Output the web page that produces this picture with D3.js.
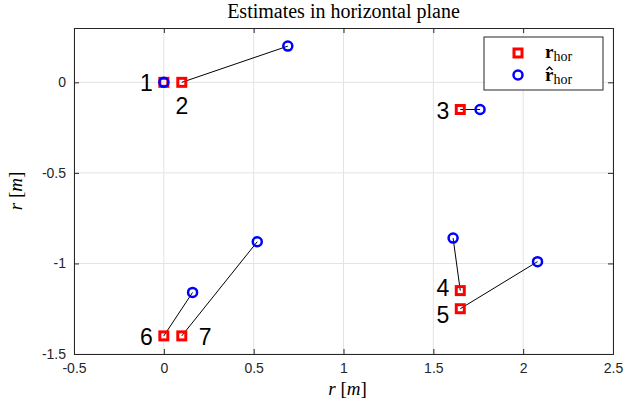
<!DOCTYPE html>
<html lang="en">
  <head>
    <meta charset="UTF-8" />
    <title>Estimates in horizontal plane</title>
    <style>
      body { margin: 0; background: #fff; }
      .tick text { font-family: "Liberation Sans", Arial, sans-serif; font-size: 14px; fill: #262626; }
    </style>
  </head>
  <body>
    <div id="chart"></div>
    <script src="https://cdn.jsdelivr.net/npm/d3@7"></script>
    <script>

      // data
      var ids   = ["1", "2", "3", "4", "5", "6", "7"];
      var trueX = [0.00, 0.10, 1.65, 1.65, 1.65, 0.00, 0.10];
      var trueY = [0.00, 0.00, -0.15, -1.15, -1.25, -1.40, -1.40];
      var estX  = [0.00, 0.69, 1.76, 1.61, 2.08, 0.16, 0.52];
      var estY  = [0.00, 0.20, -0.15, -0.86, -0.99, -1.16, -0.88];
      var xTicks = [-0.5, 0, 0.5, 1, 1.5, 2, 2.5];
      var yTicks = [0, -0.5, -1, -1.5];

      // label placement (layout only): side and extra vertical nudge in px
      var labelSide = ["left", "below", "left", "left", "left", "left", "right"];
      var labelNudge = [0, 0, 0, -4, 5, 0, 0];

      var W = 624, H = 409;
      var margin = { top: 28, right: 11, bottom: 55, left: 74 };
      var w = W - margin.left - margin.right,
          h = H - margin.top - margin.bottom;

      var svg = d3.select("#chart").append("svg")
                  .attr("width", W)
                  .attr("height", H);

      var xScale = d3.scaleLinear().domain([-0.5, 2.5]).range([0, w]);
      var yScale = d3.scaleLinear().domain([-1.5, 0.3]).range([h, 0]);

      var g = svg.append("g")
                 .attr("transform", "translate(" + margin.left + "," + margin.top + ")");

      // grid
      g.append("g")
       .selectAll("line")
       .data(xTicks)
       .enter()
       .append("line")
       .attr("x1", function(d) { return xScale(d); })
       .attr("x2", function(d) { return xScale(d); })
       .attr("y1", 0).attr("y2", h)
       .attr("stroke", "#e3e3e3").attr("stroke-width", 1);
      g.append("g")
       .selectAll("line")
       .data(yTicks)
       .enter()
       .append("line")
       .attr("y1", function(d) { return yScale(d); })
       .attr("y2", function(d) { return yScale(d); })
       .attr("x1", 0).attr("x2", w)
       .attr("stroke", "#e3e3e3").attr("stroke-width", 1);

      // axes, ticks pointing inward
      var fmt = function(d) { return String(d); };
      var xAxis = d3.axisBottom(xScale).tickValues(xTicks).tickFormat(fmt).tickSize(-5).tickPadding(9);
      var yAxis = d3.axisLeft(yScale).tickValues(yTicks).tickFormat(fmt).tickSize(-5).tickPadding(8);
      var xTop = d3.axisTop(xScale).tickValues(xTicks).tickFormat("").tickSize(-5);
      var yRight = d3.axisRight(yScale).tickValues(yTicks).tickFormat("").tickSize(-5);

      [
        [xAxis, "translate(0," + h + ")"],
        [yAxis, "translate(0,0)"],
        [xTop, "translate(0,0)"],
        [yRight, "translate(" + w + ",0)"]
      ].forEach(function(a) {
        var ax = g.append("g").attr("transform", a[1]).call(a[0]);
        ax.select(".domain").attr("stroke", "#262626").attr("stroke-width", 1);
        ax.selectAll(".tick line").attr("stroke", "#262626");
      });
      g.selectAll(".tick text").attr("fill", "#262626");

      // connection lines
      g.selectAll("line.link")
       .data(ids)
       .enter()
       .append("line")
       .attr("class", "link")
       .attr("x1", function(d, i) { return xScale(trueX[i]); })
       .attr("y1", function(d, i) { return yScale(trueY[i]); })
       .attr("x2", function(d, i) { return xScale(estX[i]); })
       .attr("y2", function(d, i) { return yScale(estY[i]); })
       .attr("stroke", "#000")
       .attr("stroke-width", 1);

      // true positions: red squares
      g.selectAll("rect.truth")
       .data(ids)
       .enter()
       .append("rect")
       .attr("class", "truth")
       .attr("x", function(d, i) { return xScale(trueX[i]) - 4; })
       .attr("y", function(d, i) { return yScale(trueY[i]) - 4; })
       .attr("width", 8).attr("height", 8)
       .attr("fill", "none")
       .attr("stroke", "#ff0000")
       .attr("stroke-width", 3);

      // estimates: blue circles
      g.selectAll("circle.est")
       .data(ids)
       .enter()
       .append("circle")
       .attr("class", "est")
       .attr("cx", function(d, i) { return xScale(estX[i]); })
       .attr("cy", function(d, i) { return yScale(estY[i]); })
       .attr("r", 4.5)
       .attr("fill", "none")
       .attr("stroke", "#0000ff")
       .attr("stroke-width", 2.5);

      // number labels
      g.selectAll("text.id")
       .data(ids)
       .enter()
       .append("text")
       .attr("class", "id")
       .attr("x", function(d, i) {
         var x = xScale(trueX[i]);
         if (labelSide[i] == "left") return x - 11;
         if (labelSide[i] == "right") return x + 17;
         return x;
       })
       .attr("y", function(d, i) {
         var y = yScale(trueY[i]) + labelNudge[i];
         if (labelSide[i] == "below") return y + 32;
         return y + 9;
       })
       .attr("text-anchor", function(d, i) {
         if (labelSide[i] == "left") return "end";
         if (labelSide[i] == "right") return "start";
         return "middle";
       })
       .style("font-family", "Liberation Sans, Arial, sans-serif")
       .style("font-size", "23px")
       .attr("fill", "#000")
       .text(function(d) { return d; });

      var serif = "Liberation Serif, Times New Roman, serif";

      // title
      svg.append("text")
         .attr("x", margin.left + w / 2)
         .attr("y", 18)
         .attr("text-anchor", "middle")
         .style("font-family", serif)
         .style("font-size", "20px")
         .text("Estimates in horizontal plane");

      // axis labels
      function axisLabel(sel) {
        sel.append("tspan").style("font-style", "italic").text("r");
        sel.append("tspan").text(" [");
        sel.append("tspan").style("font-style", "italic").text("m");
        sel.append("tspan").text("]");
      }
      svg.append("text")
         .attr("x", margin.left + w / 2 + 4)
         .attr("y", 395)
         .attr("text-anchor", "middle")
         .style("font-family", serif)
         .style("font-size", "19px")
         .call(axisLabel);

      svg.append("text")
         .attr("transform", "translate(22," + (margin.top + h / 2) + ")rotate(-90)")
         .attr("text-anchor", "middle")
         .style("font-family", serif)
         .style("font-size", "19px")
         .call(axisLabel);

      // legend
      var lg = svg.append("g").attr("transform", "translate(484,37)");
      lg.append("rect")
        .attr("width", 119).attr("height", 53)
        .attr("fill", "#fff")
        .attr("stroke", "#262626").attr("stroke-width", 1);
      lg.append("rect")
        .attr("x", 30).attr("y", 12).attr("width", 8).attr("height", 8)
        .attr("fill", "none").attr("stroke", "#ff0000").attr("stroke-width", 3);
      lg.append("circle")
        .attr("cx", 34).attr("cy", 38).attr("r", 4.5)
        .attr("fill", "none").attr("stroke", "#0000ff").attr("stroke-width", 2.5);

      var l1 = lg.append("text").attr("x", 61).attr("y", 21)
                 .style("font-family", serif).style("font-size", "19px");
      l1.append("tspan").style("font-weight", "bold").text("r");
      l1.append("tspan").attr("dy", 3).style("font-size", "14px").text("hor");

      var l2 = lg.append("text").attr("x", 61).attr("y", 44)
                 .style("font-family", serif).style("font-size", "19px");
      l2.append("tspan").style("font-weight", "bold").text("r");
      l2.append("tspan").attr("dy", 3).style("font-size", "14px").text("hor");
      // hat over the second r, drawn as a small chevron
      lg.append("path")
        .attr("d", "M62.5,33 L65.5,30 L68.5,33")
        .attr("fill", "none")
        .attr("stroke", "#000")
        .attr("stroke-width", 1.3);

    </script>
  </body>
</html>
